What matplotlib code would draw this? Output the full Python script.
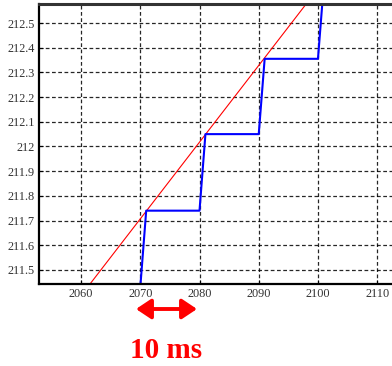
import matplotlib
matplotlib.use('Agg')
import matplotlib.pyplot as plt

# staircase (measured) and linear reference
step_t = [2070, 2071, 2080, 2081, 2090, 2091, 2100, 2101]
step_v = [211.43, 211.74, 211.74, 212.05, 212.05, 212.355, 212.355, 212.66]
ramp_t = [2060, 2100]
ramp_v = [211.396, 212.639]

xticks = [2060, 2070, 2080, 2090, 2100, 2110]
yticks = [211.5, 211.6, 211.7, 211.8, 211.9, 212, 212.1, 212.2, 212.3, 212.4, 212.5]
ylabels = ['211.5', '211.6', '211.7', '211.8', '211.9', '212',
           '212.1', '212.2', '212.3', '212.4', '212.5']

plt.rcParams['font.family'] = ['Liberation Serif', 'DejaVu Serif']

fig = plt.figure(figsize=(3.92, 3.66), dpi=100)
ax = fig.add_axes([39/392, 82/366, 353/392, 280/366])

ax.plot(ramp_t, ramp_v, color='red', lw=0.8)
ax.plot(step_t, step_v, color='blue', lw=1.5)

ax.set_xlim(2052.9, 2112.5)
ax.set_ylim(211.443, 212.577)
ax.set_xticks(xticks)
ax.set_yticks(yticks)
ax.set_yticklabels(ylabels)
ax.tick_params(axis='both', labelsize=8.8, labelcolor='#333333', length=3,
               width=0.8, direction='in', pad=3)
ax.grid(True, color='black', linestyle=(0, (3, 2)), lw=0.9, alpha=0.85)

ax.spines['right'].set_visible(False)
ax.spines['top'].set_linewidth(2.2)
ax.spines['top'].set_color('#333333')
ax.spines['left'].set_linewidth(1.6)
ax.spines['bottom'].set_linewidth(1.6)

ax.annotate('', xy=(197/392, 1-309/366), xytext=(136/392, 1-309/366),
            xycoords='figure fraction', textcoords='figure fraction',
            arrowprops=dict(arrowstyle='<|-|>,head_length=0.9,head_width=0.6',
                            color='red', lw=2.8, shrinkA=0, shrinkB=0))
fig.text(166/392, 1-351/366, '10 ms', color='red', fontsize=21,
         fontweight='bold', ha='center', va='center')

fig.savefig('out.png', dpi=100)
